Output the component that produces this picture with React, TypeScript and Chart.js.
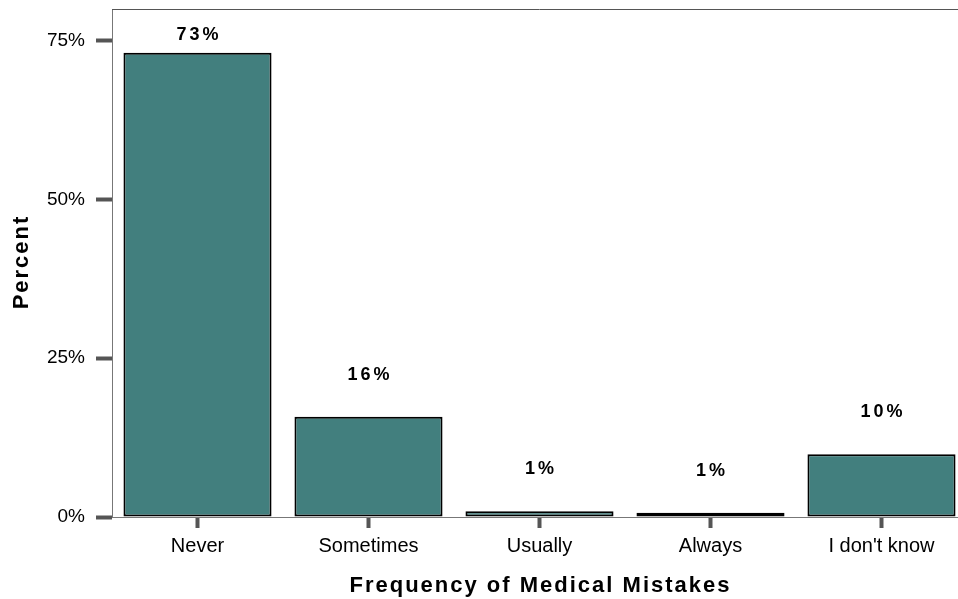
import React, { useEffect, useRef } from "react";
import { Chart, registerables } from "chart.js";

Chart.register(...registerables);

const categories = ["Never", "Sometimes", "Usually", "Always", "I don't know"];
const percentValues = [73.1, 15.8, 0.9, 0.65, 9.9];
const valueLabels = ["73%", "16%", "1%", "1%", "10%"];
const yTickValues = [0, 25, 50, 75];
const xTitle = "Frequency of Medical Mistakes";
const yTitle = "Percent";

const FONT = '"Liberation Sans", Arial, sans-serif';

function drawSpaced(ctx: CanvasRenderingContext2D, text: string, cx: number, y: number, spacing: number) {
  (ctx as any).letterSpacing = spacing + "px";
  const w = ctx.measureText(text).width;
  ctx.textAlign = "left";
  ctx.fillText(text, cx - (w - spacing) / 2, y);
  (ctx as any).letterSpacing = "0px";
}

const overlayPlugin = {
  id: "overlay",
  afterDraw(chart: any) {
    const { ctx, chartArea } = chart;
    ctx.save();
    // top frame line
    ctx.strokeStyle = "#555";
    ctx.lineWidth = 1;
    ctx.beginPath();
    ctx.moveTo(chartArea.left, chartArea.top + 0.5);
    ctx.lineTo(chartArea.right, chartArea.top + 0.5);
    ctx.stroke();

    // value labels
    const meta = chart.getDatasetMeta(0);
    ctx.fillStyle = "#000";
    ctx.font = `bold 18px ${FONT}`;
    ctx.textBaseline = "alphabetic";
    meta.data.forEach((bar: any, i: number) => {
      const y = Math.max(bar.y - 37, chartArea.top + 31);
      drawSpaced(ctx, valueLabels[i], bar.x, y, 3);
    });

    // x title
    ctx.font = `bold 22px ${FONT}`;
    drawSpaced(ctx, xTitle, (chartArea.left + chartArea.right) / 2, 592, 2);

    // y title
    ctx.translate(28, (chartArea.top + chartArea.bottom) / 2);
    ctx.rotate(-Math.PI / 2);
    drawSpaced(ctx, yTitle, 0, 0, 2);
    ctx.restore();
  },
};

export default function App() {
  const ref = useRef<HTMLCanvasElement | null>(null);

  useEffect(() => {
    if (!ref.current) return;
    const chart = new Chart(ref.current, {
      type: "bar",
      data: {
        labels: categories,
        datasets: [
          {
            data: percentValues,
            backgroundColor: "#427F7E",
            borderColor: "#000",
            borderWidth: 2,
            borderSkipped: false,
            barPercentage: 0.866,
            categoryPercentage: 1,
          },
        ],
      },
      options: {
        responsive: false,
        animation: false,
        devicePixelRatio: 1,
        layout: { padding: { top: 9, left: 0, right: 0, bottom: 0 } },
        plugins: {
          legend: { display: false },
          tooltip: { enabled: false },
        },
        scales: {
          y: {
            min: 0,
            max: 80,
            afterBuildTicks: (scale: any) => {
              scale.ticks = yTickValues.map((v) => ({ value: v }));
            },
            afterFit: (scale: any) => {
              scale.width = 112;
              scale.paddingTop = 0;
              scale.paddingBottom = 0;
            },
            ticks: {
              color: "#000",
              font: { family: FONT, size: 19 },
              padding: 11,
              callback: (v: any) => v + "%",
            },
            grid: {
              drawOnChartArea: false,
              drawTicks: true,
              tickLength: 16,
              tickWidth: 4,
              tickColor: "#555",
            },
            border: { display: true, color: "#777", width: 1 },
          },
          x: {
            afterFit: (scale: any) => {
              scale.height = 82;
              scale.paddingLeft = 0;
              scale.paddingRight = 0;
            },
            ticks: {
              color: "#000",
              font: { family: FONT, size: 20 },
              padding: 6,
              maxRotation: 0,
              autoSkip: false,
            },
            grid: {
              offset: false,
              drawOnChartArea: false,
              drawTicks: true,
              tickLength: 11,
              tickWidth: 4,
              tickColor: "#555",
            },
            border: { display: true, color: "#777", width: 1 },
          },
        },
      },
      plugins: [overlayPlugin],
    });
    return () => chart.destroy();
  }, []);

  return (
    <div
      style={{
        position: "fixed",
        left: 0,
        top: 0,
        width: 958,
        height: 599,
        overflow: "hidden",
        background: "#fff",
      }}
    >
      <canvas ref={ref} width={967} height={599} style={{ width: 967, height: 599, display: "block" }} />
    </div>
  );
}
